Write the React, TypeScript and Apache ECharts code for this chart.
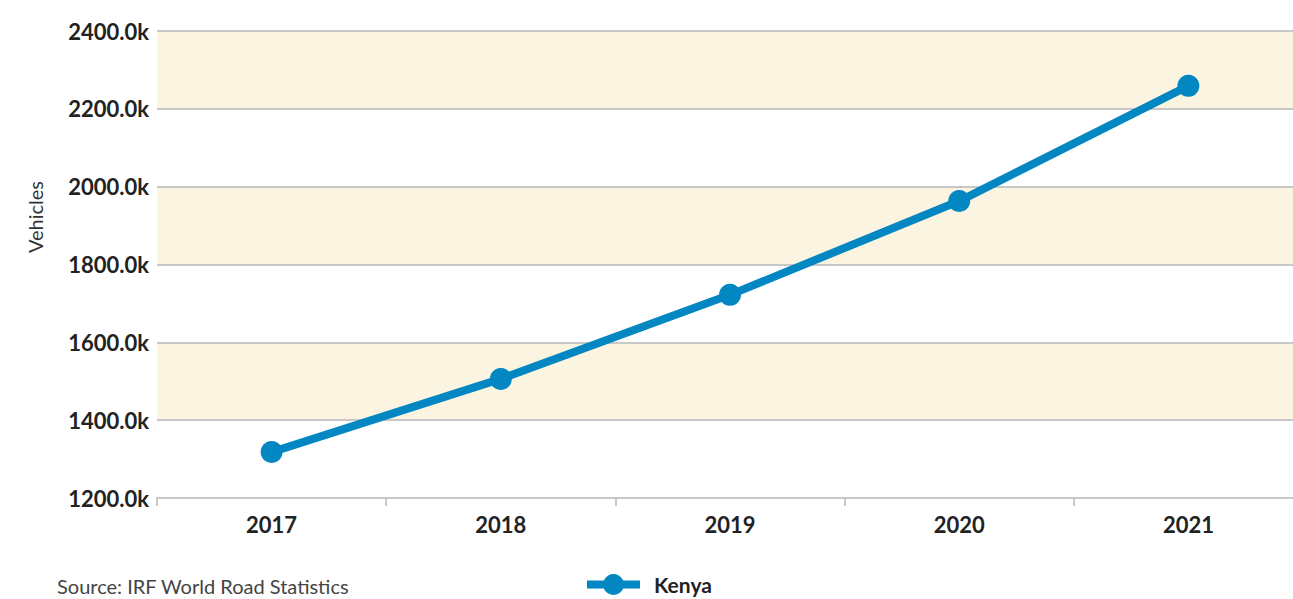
import React, { useEffect, useRef } from "react";
import * as echarts from "echarts";

const years = ["2017", "2018", "2019", "2020", "2021"];
const kenyaVehicles = [1318, 1506, 1722, 1963, 2259];
const seriesName = "Kenya";
const yMin = 1200;
const yMax = 2400;
const yStep = 200;
const sourceText = "Source: IRF World Road Statistics";
const yAxisTitle = "Vehicles";

export default function App() {
  const ref = useRef<HTMLDivElement>(null);
  useEffect(() => {
    if (!ref.current) return;
    const chart = echarts.init(ref.current, null, { renderer: "svg" });
    const font = "Lato, 'Open Sans', sans-serif";
    chart.setOption({
      animation: false,
      backgroundColor: "#ffffff",
      grid: { left: 157, right: 17, top: 31, bottom: 101, containLabel: false },
      xAxis: {
        type: "category",
        data: years,
        boundaryGap: true,
        axisLine: { show: true, lineStyle: { color: "#c8c8c8", width: 2 } },
        axisTick: { show: true, length: 8, lineStyle: { color: "#c8c8c8", width: 2 } },
        axisLabel: { color: "#222", fontFamily: font, fontWeight: "bold", fontSize: 22, margin: 15 },
        splitLine: { show: false },
      },
      yAxis: {
        type: "value",
        min: yMin,
        max: yMax,
        interval: yStep,
        axisLine: { show: false },
        axisTick: { show: false },
        axisLabel: {
          color: "#222",
          fontFamily: font,
          fontWeight: "bold",
          fontSize: 22,
          margin: 8,
          formatter: (v: number) => v.toFixed(1) + "k",
        },
        splitLine: { show: true, lineStyle: { color: "#c8c8c8", width: 2 } },
        splitArea: { show: true, areaStyle: { color: ["#ffffff", "#faf4e0"] } },
      },
      legend: {
        show: true,
        left: 583,
        top: 574,
        padding: 0,
        itemWidth: 53,
        itemHeight: 26,
        lineStyle: { width: 8 },
        textStyle: { color: "#222", fontFamily: font, fontWeight: "bold", fontSize: 21, padding: [0, 0, 0, 9] },
        data: [seriesName],
      },
      graphic: [
        {
          type: "text",
          left: 57,
          top: 576,
          style: { text: sourceText, fill: "#444", font: "20px " + font },
        },
        {
          type: "text",
          x: 35,
          y: 217,
          rotation: Math.PI / 2,
          style: {
            text: yAxisTitle,
            fill: "#333",
            font: "20px " + font,
            align: "center",
            verticalAlign: "middle",
          },
        },
      ],
      series: [
        {
          name: seriesName,
          type: "line",
          data: kenyaVehicles,
          symbol: "circle",
          symbolSize: 22,
          lineStyle: { color: "#0287c3", width: 8 },
          itemStyle: { color: "#0287c3" },
        },
      ],
    });
    return () => chart.dispose();
  }, []);
  return (
    <div style={{ position: "absolute", left: 0, top: 0, width: 1293, height: 599, overflow: "hidden" }}>
      <div ref={ref} style={{ width: 1320, height: 599 }} />
    </div>
  );
}
